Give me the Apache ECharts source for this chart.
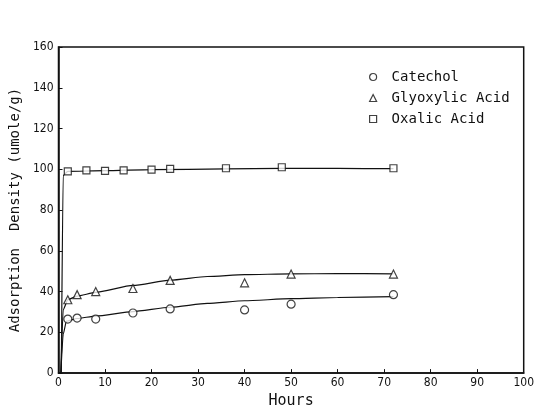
<!DOCTYPE html>
<html><head><meta charset="utf-8">
<script src="https://cdn.jsdelivr.net/npm/echarts@6/dist/echarts.min.js"></script>
<style>html,body{margin:0;padding:0;background:#fff}#c{width:537px;height:414px}</style>
</head><body><div id="c"></div>
<script>
// Measured points
const catecholHours = [2, 4, 8, 16, 24, 40, 50, 72];
const catecholValues = [26.5, 27, 26.5, 29.5, 31.5, 31, 33.8, 38.5];
const glyoxylicHours = [2, 4, 8, 16, 24, 40, 50, 72];
const glyoxylicValues = [36, 38.5, 40, 41.5, 45.5, 44.3, 48.6, 48.6];
const oxalicHours = [2, 6, 10, 14, 20, 24, 36, 48, 72];
const oxalicValues = [99, 99.5, 99.2, 99.5, 99.8, 100.2, 100.5, 101, 100.5];
// Fitted curves
const catecholFitHours = [0.5, 1, 1.7, 4, 8, 16, 24, 32, 40, 50, 60, 72];
const catecholFitValues = [0, 19, 25.5, 26.8, 28, 30.2, 32.3, 34.2, 35.5, 36.5, 37.1, 37.5];
const glyoxylicFitHours = [0.5, 1, 2, 4, 8, 16, 24, 32, 40, 50, 60, 72];
const glyoxylicFitValues = [0, 31, 36, 37.8, 39.6, 43, 45.6, 47.4, 48.3, 48.7, 48.8, 48.7];
const oxalicFitHours = [0.6, 1, 2, 10, 20, 36, 48, 60, 72];
const oxalicFitValues = [0, 97, 99, 99.3, 99.8, 100.2, 100.4, 100.4, 100.3];
const seriesNames = ['Catechol', 'Glyoxylic Acid', 'Oxalic Acid'];
const xTicks = [0, 10, 20, 30, 40, 50, 60, 70, 80, 90, 100];
const yTicks = [0, 20, 40, 60, 80, 100, 120, 140, 160];

const zip = (a, b) => a.map((v, i) => [v, b[i]]);
const FONT = 'DejaVu Sans Condensed';
const MONO = 'DejaVu Sans Mono';
const chart = echarts.init(document.getElementById('c'));
const markerStyle = {color: '#fff', borderColor: '#111', borderWidth: 1.2};
function scat(name, symbol, xs, ys, size) {
  return {name, type: 'scatter', symbol, symbolSize: size, data: zip(xs, ys),
    itemStyle: markerStyle, z: 5};
}
function fit(xs, ys) {
  return {type: 'line', data: zip(xs, ys), smooth: 0.2, smoothMonotone: 'x', showSymbol: false,
    lineStyle: {color: '#111', width: 1.2}, silent: true, z: 3};
}
chart.setOption({
  animation: false,
  backgroundColor: '#fff',
  grid: {left: 58, right: 8, top: 47, bottom: 31, show: true, borderColor: '#111', borderWidth: 1.5, backgroundColor: 'transparent'},
  legend: {
    orient: 'vertical', left: 364, top: 65, itemGap: 7, itemWidth: 7, itemHeight: 7,
    textStyle: {fontFamily: MONO, fontSize: 14, color: '#111', padding: [0, 0, 0, 10]},
    data: [
      {name: seriesNames[0], icon: 'circle', itemStyle: markerStyle},
      {name: seriesNames[1], icon: 'triangle', itemStyle: markerStyle},
      {name: seriesNames[2], icon: 'rect', itemStyle: markerStyle}
    ]
  },
  xAxis: {
    type: 'value', min: 0, max: 100, interval: 10,
    name: 'Hours', nameLocation: 'middle', nameGap: 18,
    nameTextStyle: {fontFamily: MONO, fontSize: 15, color: '#111'},
    axisLine: {lineStyle: {color: '#111', width: 1.5}},
    axisTick: {inside: true, length: 4, lineStyle: {color: '#111'}},
    axisLabel: {fontFamily: FONT, fontSize: 12, color: '#111', margin: 4,
      formatter: v => xTicks.includes(v) ? String(v) : ''},
    splitLine: {show: false}
  },
  yAxis: {
    type: 'value', min: 0, max: 160, interval: 20,
    name: 'Adsorption  Density (umole/g)', nameLocation: 'middle', nameGap: 34,
    nameTextStyle: {fontFamily: MONO, fontSize: 14, color: '#111'},
    axisLine: {lineStyle: {color: '#111', width: 1.5}},
    axisTick: {inside: true, length: 4, lineStyle: {color: '#111'}},
    axisLabel: {fontFamily: FONT, fontSize: 12, color: '#111', margin: 5,
      formatter: v => yTicks.includes(v) ? String(v) : ''},
    splitLine: {show: false}
  },
  series: [
    fit(catecholFitHours, catecholFitValues),
    fit(glyoxylicFitHours, glyoxylicFitValues),
    fit(oxalicFitHours, oxalicFitValues),
    scat(seriesNames[0], 'circle', catecholHours, catecholValues, 8),
    scat(seriesNames[1], 'triangle', glyoxylicHours, glyoxylicValues, 8),
    scat(seriesNames[2], 'rect', oxalicHours, oxalicValues, 7)
  ]
});
</script></body></html>
